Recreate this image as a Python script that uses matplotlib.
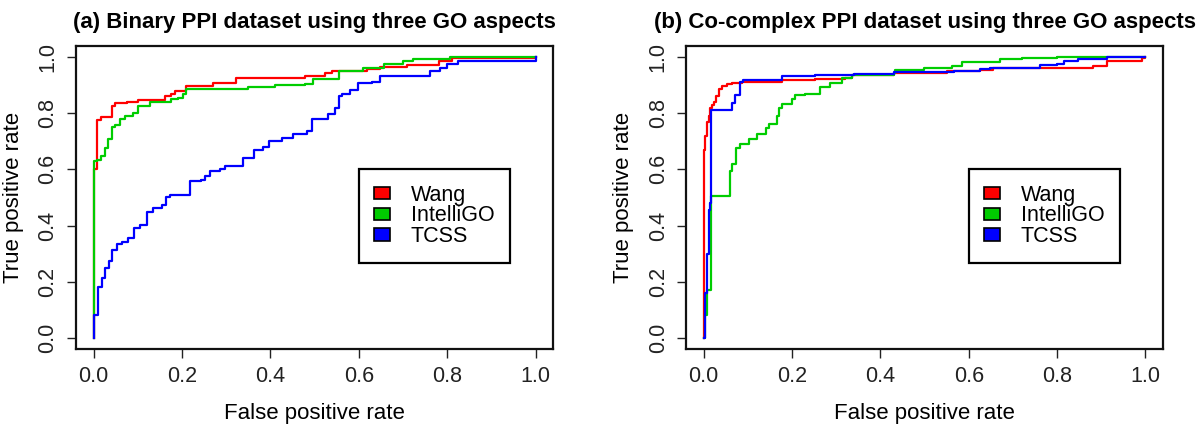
import matplotlib
matplotlib.use("Agg")
import matplotlib.pyplot as plt
from matplotlib.patches import Patch

plt.rcParams['font.family'] = ['Liberation Sans', 'DejaVu Sans']

# ---------------- data ----------------
methods = ["Wang", "IntelliGO", "TCSS"]
colors = ["#FF0000", "#00CD00", "#0000FF"]

titles = ["(a) Binary PPI dataset using three GO aspects",
          "(b) Co-complex PPI dataset using three GO aspects"]
xlabel = "False positive rate"
ylabel = "True positive rate"
ticks = [0.0, 0.2, 0.4, 0.6, 0.8, 1.0]
tick_labels = ["0.0", "0.2", "0.4", "0.6", "0.8", "1.0"]

# Panel (a): binary PPI
a_wang_fpr = [0, 0, 0.007, 0.017, 0.042, 0.048, 0.075, 0.101, 0.161, 0.175, 0.184, 0.21,
              0.27, 0.323, 0.479, 0.524, 0.539, 0.618, 0.648, 0.708, 0.781, 0.81, 0.983, 1.0]
a_wang_tpr = [0, 0.60, 0.775, 0.787, 0.826, 0.836, 0.84, 0.847, 0.862, 0.868, 0.88, 0.897,
              0.908, 0.927, 0.933, 0.943, 0.951, 0.959, 0.964, 0.973, 0.987, 0.996, 0.996, 1.0]

a_intelli_fpr = [0, 0, 0.008, 0.0166, 0.0256, 0.033, 0.041, 0.048, 0.06, 0.071, 0.09, 0.101,
                 0.127, 0.176, 0.19, 0.203, 0.21, 0.35, 0.41, 0.479, 0.497, 0.554, 0.556,
                 0.61, 0.656, 0.70, 0.723, 0.806, 1.0]
a_intelli_tpr = [0, 0.629, 0.635, 0.647, 0.677, 0.709, 0.752, 0.76, 0.778, 0.79, 0.802, 0.826,
                 0.84, 0.85, 0.856, 0.868, 0.886, 0.892, 0.90, 0.903, 0.924, 0.939, 0.951,
                 0.963, 0.977, 0.985, 0.995, 1.0, 1.0]

a_tcss_fpr = [0, 0, 0.009, 0.018, 0.0256, 0.035, 0.042, 0.052, 0.065, 0.078, 0.092, 0.105,
              0.12, 0.135, 0.154, 0.163, 0.173, 0.218, 0.244, 0.252, 0.263, 0.286, 0.297,
              0.338, 0.362, 0.384, 0.396, 0.426, 0.452, 0.482, 0.494, 0.531, 0.546, 0.554,
              0.562, 0.58, 0.599, 0.63, 0.648, 0.761, 0.784, 0.80, 0.825, 0.991, 1.0]
a_tcss_tpr = [0, 0.081, 0.182, 0.212, 0.248, 0.272, 0.313, 0.335, 0.340, 0.355, 0.391, 0.403,
              0.45, 0.462, 0.474, 0.502, 0.51, 0.558, 0.564, 0.576, 0.594, 0.60, 0.611,
              0.639, 0.669, 0.68, 0.703, 0.713, 0.727, 0.737, 0.778, 0.796, 0.819, 0.862,
              0.868, 0.882, 0.909, 0.913, 0.933, 0.951, 0.963, 0.975, 0.986, 0.986, 1.0]

# Panel (b): co-complex PPI
b_wang_fpr = [0, 0, 0.0015, 0.004, 0.0075, 0.011, 0.015, 0.019, 0.023, 0.028, 0.034, 0.041,
              0.053, 0.064, 0.087, 0.177, 0.253, 0.32, 0.336, 0.43, 0.55, 0.626, 0.656, 0.86,
              0.882, 0.912, 0.984, 0.992, 1.0]
b_wang_tpr = [0, 0.13, 0.67, 0.72, 0.77, 0.79, 0.82, 0.83, 0.84, 0.86, 0.886, 0.898,
              0.906, 0.908, 0.912, 0.917, 0.922, 0.927, 0.936, 0.945, 0.951, 0.955, 0.96, 0.96,
              0.969, 0.985, 0.987, 0.996, 1.0]

b_intelli_fpr = [0, 0.003, 0.008, 0.017, 0.06, 0.064, 0.072, 0.083, 0.102, 0.121, 0.14, 0.147,
                 0.166, 0.170, 0.177, 0.200, 0.207, 0.230, 0.264, 0.287, 0.313, 0.336, 0.430,
                 0.434, 0.498, 0.562, 0.585, 0.670, 0.720, 0.800, 1.0]
b_intelli_tpr = [0, 0.08, 0.17, 0.504, 0.595, 0.62, 0.677, 0.69, 0.707, 0.725, 0.749, 0.761,
                 0.79, 0.82, 0.832, 0.85, 0.864, 0.868, 0.892, 0.909, 0.925, 0.936, 0.945,
                 0.955, 0.963, 0.969, 0.983, 0.993, 0.998, 1.0, 1.0]

b_tcss_fpr = [0, 0.002, 0.008, 0.011, 0.014, 0.017, 0.064, 0.070, 0.083, 0.090, 0.177, 0.253,
              0.34, 0.43, 0.566, 0.626, 0.649, 0.762, 0.80, 0.815, 0.848, 0.912, 1.0]
b_tcss_tpr = [0, 0.158, 0.30, 0.456, 0.48, 0.81, 0.838, 0.866, 0.91, 0.92, 0.932, 0.937,
              0.939, 0.947, 0.951, 0.957, 0.961, 0.973, 0.975, 0.985, 0.995, 1.0, 1.0]

panels = [
    [(a_wang_fpr, a_wang_tpr), (a_intelli_fpr, a_intelli_tpr), (a_tcss_fpr, a_tcss_tpr)],
    [(b_wang_fpr, b_wang_tpr), (b_intelli_fpr, b_intelli_tpr), (b_tcss_fpr, b_tcss_tpr)],
]

# ---------------- figure ----------------
fig = plt.figure(figsize=(12, 4.26), dpi=100)
positions = [[0.0633, 0.1808, 0.3978, 0.7113],
             [0.5717, 0.1808, 0.3975, 0.7113]]

for pos, curves, title in zip(positions, panels, titles):
    ax = fig.add_axes(pos)
    for (fpr, tpr), col in zip(curves, colors):
        ax.plot(fpr, tpr, drawstyle='steps-post', color=col, lw=1.6)
    ax.set_xlim(-0.04, 1.04)
    ax.set_ylim(-0.04, 1.04)
    ax.set_xticks(ticks)
    ax.set_xticklabels(tick_labels)
    ax.set_yticks(ticks)
    ax.set_yticklabels(tick_labels, rotation=90, va='center')
    ax.tick_params(direction='out', length=6.5, width=1.0, labelsize=15.5, colors='#222222')
    ax.tick_params(axis='x', pad=5.5)
    ax.tick_params(axis='y', pad=6)
    for s in ax.spines.values():
        s.set_linewidth(1.6)
        s.set_color('#111111')
    ax.set_title(title, fontsize=16, fontweight='bold', pad=13)
    ax.set_xlabel(xlabel, fontsize=16, labelpad=12)
    ax.set_ylabel(ylabel, fontsize=16, labelpad=10)

    handles = [Patch(facecolor=c, edgecolor='black', linewidth=1.2) for c in colors]
    leg = ax.legend(handles, methods, loc='upper left', bbox_to_anchor=(0.6, 0.6),
                    bbox_transform=ax.transData, fontsize=15.5, frameon=True, fancybox=False,
                    edgecolor='black', framealpha=1, borderpad=0.72, handlelength=0.75,
                    handleheight=0.5, handletextpad=0.95, labelspacing=-0.02, borderaxespad=0)
    leg.get_frame().set_linewidth(1.6)

fig.savefig("out.png", dpi=100, facecolor='white')
